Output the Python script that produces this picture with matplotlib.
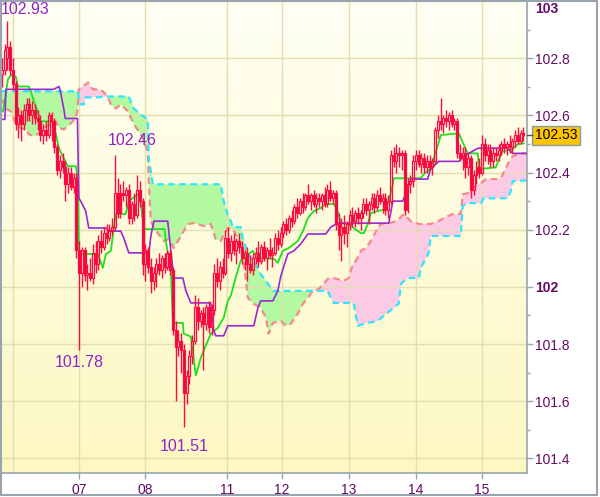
import numpy as np
import matplotlib
matplotlib.use("Agg")
import matplotlib.pyplot as plt
import matplotlib.transforms as mtransforms
from matplotlib.colors import LinearSegmentedColormap
from matplotlib.patches import Rectangle

plt.rcParams['font.family'] = ['Liberation Sans', 'DejaVu Sans']

# hourly candles
opens = [102.745, 102.76, 102.80, 102.84, 102.76, 102.71, 102.57, 102.60, 102.57, 102.62,
         102.64, 102.60, 102.62, 102.59, 102.58, 102.53, 102.55, 102.53, 102.60, 102.58,
         102.49, 102.41, 102.44, 102.42, 102.36, 102.40, 102.35, 102.38, 102.13, 102.05,
         102.13, 102.04, 102.05, 102.03, 102.12, 102.08, 102.16, 102.14, 102.19, 102.17,
         102.20, 102.21, 102.33, 102.26, 102.33, 102.32, 102.34, 102.24, 102.29, 102.25,
         102.34, 102.30, 102.08, 102.13, 102.07, 102.02, 102.05, 102.08, 102.06, 102.10,
         102.07, 102.12, 102.06, 101.85, 101.79, 101.81, 101.78, 101.63, 101.69, 101.76,
         101.81, 101.93, 101.88, 101.91, 101.87, 101.93, 101.86, 101.92, 102.05, 102.02,
         102.07, 102.05, 102.17, 102.12, 102.16, 102.13, 102.16, 102.14, 102.10, 102.12,
         102.08, 102.06, 102.10, 102.12, 102.09, 102.14, 102.10, 102.13, 102.11, 102.12,
         102.17, 102.15, 102.19, 102.22, 102.20, 102.24, 102.23, 102.28, 102.26, 102.30,
         102.28, 102.32, 102.30, 102.32, 102.29, 102.31, 102.30, 102.32, 102.29, 102.34,
         102.31, 102.33, 102.22, 102.18, 102.21, 102.19, 102.22, 102.25, 102.23, 102.26,
         102.24, 102.26, 102.29, 102.27, 102.29, 102.31, 102.28, 102.32, 102.30, 102.31,
         102.27, 102.30, 102.46, 102.44, 102.47, 102.46, 102.47, 102.27, 102.36, 102.37,
         102.44, 102.46, 102.43, 102.45, 102.42, 102.44, 102.42, 102.44, 102.55, 102.58,
         102.57, 102.59, 102.58, 102.60, 102.57, 102.58, 102.47, 102.45, 102.47, 102.42,
         102.45, 102.34, 102.39, 102.42, 102.40, 102.50, 102.46, 102.48, 102.44, 102.47,
         102.46, 102.48, 102.50, 102.49, 102.50, 102.49, 102.51, 102.53, 102.51, 102.54]
highs = [102.80, 102.85, 102.93, 102.86, 102.80, 102.72, 102.63, 102.62, 102.64, 102.66,
         102.66, 102.65, 102.64, 102.62, 102.60, 102.57, 102.58, 102.61, 102.61, 102.59,
         102.50, 102.46, 102.47, 102.44, 102.42, 102.42, 102.40, 102.40, 102.16, 102.14,
         102.14, 102.08, 102.10, 102.15, 102.16, 102.18, 102.20, 102.21, 102.22, 102.22,
         102.24, 102.46, 102.38, 102.36, 102.37, 102.35, 102.36, 102.30, 102.33, 102.39,
         102.37, 102.31, 102.15, 102.14, 102.10, 102.07, 102.10, 102.12, 102.11, 102.12,
         102.13, 102.13, 102.07, 101.88, 101.85, 101.84, 101.80, 101.71, 101.78, 101.83,
         101.97, 101.96, 101.92, 101.93, 101.94, 101.95, 101.94, 102.08, 102.10, 102.09,
         102.10, 102.20, 102.21, 102.18, 102.19, 102.17, 102.19, 102.16, 102.13, 102.14,
         102.11, 102.12, 102.14, 102.16, 102.15, 102.16, 102.14, 102.17, 102.14, 102.19,
         102.20, 102.21, 102.23, 102.24, 102.25, 102.27, 102.29, 102.31, 102.31, 102.33,
         102.33, 102.36, 102.33, 102.34, 102.33, 102.33, 102.33, 102.35, 102.36, 102.37,
         102.34, 102.34, 102.26, 102.24, 102.25, 102.23, 102.27, 102.28, 102.27, 102.28,
         102.27, 102.31, 102.31, 102.30, 102.33, 102.33, 102.34, 102.35, 102.33, 102.33,
         102.32, 102.48, 102.49, 102.50, 102.49, 102.48, 102.48, 102.38, 102.39, 102.46,
         102.48, 102.48, 102.47, 102.47, 102.46, 102.46, 102.45, 102.56, 102.60, 102.66,
         102.60, 102.62, 102.61, 102.62, 102.59, 102.59, 102.50, 102.49, 102.49, 102.47,
         102.46, 102.41, 102.44, 102.45, 102.53, 102.52, 102.50, 102.50, 102.49, 102.49,
         102.50, 102.51, 102.52, 102.51, 102.53, 102.52, 102.55, 102.56, 102.55, 102.56]
lows = [102.70, 102.74, 102.76, 102.74, 102.69, 102.55, 102.52, 102.51, 102.55, 102.58,
        102.58, 102.57, 102.57, 102.55, 102.51, 102.50, 102.51, 102.52, 102.51, 102.47,
        102.39, 102.38, 102.40, 102.30, 102.33, 102.34, 102.33, 102.10, 101.78, 102.00,
        102.02, 101.99, 102.02, 102.01, 102.05, 102.06, 102.12, 102.13, 102.15, 102.16,
        102.18, 102.20, 102.24, 102.24, 102.30, 102.28, 102.22, 102.22, 102.23, 102.24,
        102.28, 102.04, 102.02, 102.05, 101.98, 101.99, 102.00, 102.04, 102.03, 102.05,
        102.06, 102.04, 101.83, 101.60, 101.76, 101.70, 101.51, 101.59, 101.66, 101.73,
        101.80, 101.85, 101.86, 101.71, 101.85, 101.84, 101.83, 101.90, 102.00, 101.99,
        102.03, 102.04, 102.10, 102.09, 102.11, 102.08, 102.12, 102.08, 102.06, 102.02,
        102.05, 102.04, 102.08, 102.07, 102.08, 102.09, 102.06, 102.10, 102.07, 102.11,
        102.13, 102.14, 102.17, 102.18, 102.19, 102.21, 102.22, 102.24, 102.25, 102.26,
        102.27, 102.29, 102.27, 102.28, 102.26, 102.28, 102.27, 102.28, 102.28, 102.30,
        102.29, 102.20, 102.13, 102.09, 102.15, 102.14, 102.20, 102.21, 102.21, 102.22,
        102.20, 102.24, 102.25, 102.22, 102.27, 102.26, 102.27, 102.29, 102.26, 102.25,
        102.24, 102.29, 102.42, 102.40, 102.42, 102.41, 102.25, 102.26, 102.33, 102.35,
        102.41, 102.42, 102.40, 102.40, 102.40, 102.41, 102.39, 102.43, 102.52, 102.55,
        102.54, 102.56, 102.55, 102.56, 102.55, 102.45, 102.44, 102.41, 102.38, 102.39,
        102.31, 102.32, 102.36, 102.38, 102.39, 102.44, 102.43, 102.42, 102.42, 102.44,
        102.44, 102.46, 102.47, 102.46, 102.47, 102.47, 102.49, 102.50, 102.50, 102.51]
closes = [102.76, 102.83, 102.84, 102.76, 102.71, 102.57, 102.60, 102.57, 102.62, 102.64,
          102.60, 102.62, 102.59, 102.58, 102.53, 102.55, 102.53, 102.60, 102.58, 102.49,
          102.41, 102.44, 102.42, 102.36, 102.40, 102.35, 102.38, 102.13, 102.05, 102.13,
          102.04, 102.05, 102.03, 102.12, 102.08, 102.16, 102.14, 102.19, 102.17, 102.20,
          102.21, 102.33, 102.26, 102.33, 102.32, 102.34, 102.24, 102.29, 102.25, 102.34,
          102.30, 102.08, 102.13, 102.07, 102.02, 102.05, 102.08, 102.06, 102.10, 102.07,
          102.12, 102.06, 101.85, 101.79, 101.81, 101.78, 101.63, 101.69, 101.76, 101.81,
          101.93, 101.88, 101.91, 101.87, 101.93, 101.86, 101.92, 102.05, 102.02, 102.07,
          102.05, 102.17, 102.12, 102.16, 102.13, 102.16, 102.14, 102.10, 102.12, 102.08,
          102.06, 102.10, 102.12, 102.09, 102.14, 102.10, 102.13, 102.11, 102.12, 102.17,
          102.15, 102.19, 102.22, 102.20, 102.24, 102.23, 102.28, 102.26, 102.30, 102.28,
          102.32, 102.30, 102.32, 102.29, 102.31, 102.30, 102.32, 102.29, 102.34, 102.31,
          102.33, 102.22, 102.18, 102.21, 102.19, 102.22, 102.25, 102.23, 102.26, 102.24,
          102.26, 102.29, 102.27, 102.29, 102.31, 102.28, 102.32, 102.30, 102.31, 102.27,
          102.30, 102.46, 102.44, 102.47, 102.46, 102.47, 102.27, 102.36, 102.37, 102.44,
          102.46, 102.43, 102.45, 102.42, 102.44, 102.42, 102.44, 102.55, 102.58, 102.57,
          102.59, 102.58, 102.60, 102.57, 102.58, 102.47, 102.45, 102.47, 102.42, 102.45,
          102.34, 102.39, 102.42, 102.40, 102.50, 102.46, 102.48, 102.44, 102.47, 102.46,
          102.48, 102.50, 102.49, 102.50, 102.49, 102.51, 102.53, 102.51, 102.54, 102.53]

# conversion line (green) and base line (purple), vertices
tenkan_x = [0.4, 2.2, 3.3, 5.1, 5.8, 9.8, 10.5, 11.6, 13.0, 14.1,
            18.5, 19.6, 20.7, 22.1, 23.9, 26.8, 27.5, 28.0, 34.8, 36.6,
            37.7, 39.5, 41.3, 44.9, 46.0, 49.3, 50.4, 51.4, 59.0, 59.4,
            61.2, 62.0, 65.6, 65.9, 68.5, 70.3, 72.1, 73.9, 75.7, 78.3,
            80.4, 81.9, 83.0, 84.1, 86.6, 89.1, 90.9, 92.8, 98.6, 100.0,
            101.8, 104.0, 107.2, 109.1, 110.9, 113.0, 115.6, 117.4, 120.3, 121.7,
            122.8, 125.4, 127.5, 130.1, 131.2, 132.6, 133.7, 136.2, 138.4, 140.2,
            141.7, 142.0, 151.8, 152.9, 155.4, 159.1, 165.6, 168.8, 172.5, 172.8,
            179.0, 180.1, 181.5, 185.1, 186.9, 189.1]
tenkan_y = [102.614, 102.725, 102.742, 102.735, 102.701, 102.701, 102.684, 102.649, 102.614, 102.579,
            102.579, 102.534, 102.485, 102.457, 102.422, 102.422, 102.38, 102.115, 102.115, 102.066,
            102.115, 102.126, 102.255, 102.255, 102.300, 102.324, 102.290, 102.202, 102.202, 102.160,
            102.066, 101.874, 101.874, 101.836, 101.826, 101.690, 101.752, 101.794, 101.836, 101.857,
            101.892, 101.951, 101.97, 102.010, 102.094, 102.112, 102.126, 102.101, 102.098, 102.084,
            102.126, 102.136, 102.160, 102.195, 102.241, 102.265, 102.276, 102.290, 102.290, 102.265,
            102.223, 102.220, 102.206, 102.188, 102.188, 102.220, 102.258, 102.265, 102.27, 102.30,
            102.359, 102.380, 102.38, 102.394, 102.415, 102.531, 102.537, 102.467, 102.467, 102.412,
            102.418, 102.446, 102.474, 102.481, 102.499, 102.502]

kijun_x = [-0.4, 1.1, 1.5, 18.8, 20.7, 21.2, 22.5, 23.0, 27.4, 27.9,
           28.6, 30.4, 31.5, 37.7, 38.8, 43.1, 44.2, 46.0, 53.3, 54.0,
           55.1, 60.1, 62.3, 65.6, 66.7, 68.5, 75.7, 76.8, 77.5, 80.4,
           81.9, 91.3, 92.8, 93.8, 98.2, 100.0, 101.1, 103.6, 105.8, 108.3,
           110.9, 117.4, 119.2, 121.7, 140.2, 141.7, 145.3, 147.1, 148.2, 154.3,
           155.4, 158.3, 165.6, 167.4, 172.5, 183.3, 185.1, 190.6]
kijun_y = [102.586, 102.586, 102.691, 102.691, 102.701, 102.684, 102.62, 102.589, 102.589, 102.31,
           102.30, 102.265, 102.206, 102.206, 102.195, 102.195, 102.171, 102.119, 102.119, 102.178,
           102.230, 102.230, 102.031, 102.031, 101.986, 101.944, 101.944, 101.847, 101.829, 101.829,
           101.864, 101.864, 101.927, 101.951, 101.951, 101.986, 102.038, 102.115, 102.126, 102.150,
           102.185, 102.185, 102.209, 102.223, 102.223, 102.300, 102.300, 102.345, 102.377, 102.377,
           102.412, 102.439, 102.439, 102.457, 102.485, 102.485, 102.467, 102.467]

# cloud: salmon span (a) and cyan span (b) on a shared grid
cloud_x = [-0.4, 0.4, 1.4, 3.3, 5.1, 6.9, 8.7, 9.8, 11.6, 13.4,
           14.9, 17.8, 19.6, 20.7, 22.5, 23.9, 25.7, 26.8, 27.5, 27.9,
           28.6, 29.3, 29.7, 30.4, 31.2, 33.0, 34.8, 36.6, 38.4, 39.5,
           41.3, 43.1, 45.7, 46.0, 47.8, 50.4, 52.9, 53.3, 54.0, 54.7,
           56.5, 58.7, 60.5, 62.3, 64.9, 67.4, 69.6, 73.2, 75.7, 77.5,
           79.3, 80.4, 81.9, 83.0, 83.7, 86.6, 87.3, 88.4, 89.1, 91.3,
           93.8, 95.7, 96.7, 98.2, 101.1, 102.9, 104.7, 107.2, 109.1, 110.9,
           112.7, 114.9, 118.1, 119.2, 120.3, 123.9, 125.7, 127.2, 127.5, 128.3,
           129.0, 130.1, 131.9, 133.7, 136.2, 137.3, 140.2, 142.0, 143.8, 144.6,
           145.7, 147.1, 148.2, 151.1, 151.8, 154.7, 155.4, 158.3, 160.1, 163.4,
           166.3, 167.0, 168.8, 169.9, 172.5, 173.6, 174.6, 175.4, 179.0, 180.8,
           182.6, 183.3, 184.4, 185.1, 188.0, 190.6]
span_a = [102.656, 102.649, 102.624, 102.614, 102.569, 102.555, 102.551, 102.534, 102.527, 102.537,
          102.555, 102.569, 102.579, 102.555, 102.551, 102.562, 102.579, 102.589, 102.624, 102.691,
          102.698, 102.701, 102.705, 102.708, 102.715, 102.691, 102.691, 102.684, 102.666, 102.638,
          102.624, 102.638, 102.614, 102.607, 102.569, 102.534, 102.474, 102.352, 102.230, 102.216,
          102.188, 102.160, 102.167, 102.136, 102.178, 102.220, 102.223, 102.213, 102.220, 102.167,
          102.160, 102.181, 102.206, 102.202, 102.202, 102.150, 102.101, 102.031, 101.962, 101.941,
          101.927, 101.892, 101.836, 101.874, 101.881, 101.864, 101.871, 101.906, 101.941, 101.962,
          101.986, 101.993, 102.028, 102.030, 102.031, 102.021, 102.031, 102.080, 102.084, 102.091,
          102.105, 102.126, 102.136, 102.160, 102.206, 102.220, 102.223, 102.227, 102.237, 102.244,
          102.255, 102.241, 102.230, 102.220, 102.220, 102.220, 102.220, 102.230, 102.241, 102.255,
          102.255, 102.324, 102.328, 102.335, 102.359, 102.363, 102.370, 102.377, 102.377, 102.380,
          102.415, 102.429, 102.446, 102.457, 102.467, 102.467]
span_b = [102.684, 102.684, 102.684, 102.684, 102.684, 102.684, 102.684, 102.684, 102.684, 102.684,
          102.684, 102.684, 102.684, 102.684, 102.684, 102.684, 102.684, 102.684, 102.684, 102.659,
          102.638, 102.638, 102.638, 102.663, 102.663, 102.663, 102.663, 102.665, 102.666, 102.666,
          102.666, 102.666, 102.666, 102.666, 102.624, 102.603, 102.586, 102.439, 102.405, 102.359,
          102.359, 102.359, 102.359, 102.359, 102.359, 102.359, 102.359, 102.359, 102.359, 102.359,
          102.359, 102.300, 102.251, 102.230, 102.209, 102.209, 102.171, 102.140, 102.115, 102.091,
          102.045, 102.021, 102.007, 101.986, 101.986, 101.986, 101.986, 101.986, 101.986, 101.986,
          101.986, 101.986, 101.986, 101.962, 101.944, 101.944, 101.944, 101.944, 101.944, 101.899,
          101.864, 101.867, 101.873, 101.876, 101.881, 101.890, 101.913, 101.927, 101.941, 102.010,
          102.021, 102.031, 102.031, 102.031, 102.066, 102.119, 102.178, 102.178, 102.178, 102.178,
          102.178, 102.283, 102.293, 102.293, 102.293, 102.293, 102.310, 102.310, 102.310, 102.310,
          102.310, 102.310, 102.335, 102.370, 102.371, 102.373]

day_ticks = [28, 52, 81.5, 101.5, 125.7, 150, 174]
day_labels = ['07', '08', '11', '12', '13', '14', '15']
first_day = 4  # gridline of the day before, no label
price_ticks = [101.4, 101.6, 101.8, 102.0, 102.2, 102.4, 102.6, 102.8]
price_labels = ['101.4', '101.6', '101.8', '102', '102.2', '102.4', '102.6', '102.8']

RED = '#ff0a3c'
DOWN_FILL = '#d0105a'
AXIS_GRAY = '#9aa4ae'
TICK_TXT = '#640a64'
NOTE = '#8e24c8'
GRID = '#e2deb0'

fig = plt.figure(figsize=(6.0, 4.97), dpi=100)
ax = fig.add_axes([1 / 600, 24 / 497, 526 / 600, 472 / 497])

# background gradient
bg = LinearSegmentedColormap.from_list('bg', ['#fdf8c2', '#fffff4'])
ax.imshow(np.linspace(0, 1, 256).reshape(-1, 1), cmap=bg, origin='lower', aspect='auto',
          extent=[0, 1, 0, 1], transform=ax.transAxes, zorder=0)

# cloud
cx = np.array(cloud_x)
sa = np.array(span_a)
sb = np.array(span_b)
ax.fill_between(cx, sa, sb, where=sb >= sa, interpolate=True, color='#b2f9a2', lw=0, zorder=1)
ax.fill_between(cx, sa, sb, where=sa > sb, interpolate=True, color='#fdcae6', lw=0, zorder=1)
ax.plot(cx, sa, color='#f48a8a', lw=1.6, dashes=(3, 2), zorder=2)
ax.plot(cx, sb, color='#2ee6fa', lw=1.6, dashes=(3, 2), zorder=2)

# tenkan / kijun
ax.plot(tenkan_x, tenkan_y, color='#1ee01e', lw=1.3, zorder=3)
ax.plot(kijun_x, kijun_y, color='#9a28d4', lw=1.2, zorder=3)

# candles
o = np.array(opens)
h = np.array(highs)
l = np.array(lows)
c = np.array(closes)
idx = np.arange(len(c))
top = np.maximum(o, c)
bot = np.minimum(o, c)
ax.vlines(idx, top, h, color=RED, lw=1.0, zorder=4)
ax.vlines(idx, l, bot, color=RED, lw=1.0, zorder=4)
faces = ['none' if cc >= oo else DOWN_FILL for oo, cc in zip(o, c)]
ax.bar(idx, top - bot, bottom=bot, width=0.72, color=faces, edgecolor=RED, lw=0.9, zorder=5)

# extremes
ax.text(-0.3, 102.97, f'{max(highs):.2f}', ha='left', va='center', color=NOTE, fontsize=11.5, zorder=6)
ax.text(47.1, 102.513, f'{highs[41]:.2f}', ha='center', va='center', color=NOTE, fontsize=11.5, zorder=6)
ax.text(27.9, 101.734, f'{lows[28]:.2f}', ha='center', va='center', color=NOTE, fontsize=11.5, zorder=6)
ax.text(65.9, 101.44, f'{min(lows):.2f}', ha='center', va='center', color=NOTE, fontsize=11.5, zorder=6)

ax.set_xlim(-0.3, 190.3)
ax.set_ylim(101.349, 103.0)

# grid and axes
ax.set_axisbelow('line')
ax.grid(True, color=GRID, lw=1.0)
ax.axvline(first_day, color=GRID, lw=1.0, zorder=1.5)
ax.set_xticks(day_ticks)
ax.set_xticklabels(day_labels)
ax.yaxis.tick_right()
ax.set_yticks(price_ticks)
ax.set_yticklabels(price_labels)
ax.set_yticks(np.arange(101.4, 103.0, 0.1), minor=True)
for t in ax.get_yticklabels():
    if t.get_text() == '102':
        t.set_fontweight('bold')
ax.tick_params(axis='x', length=4, width=1, color=AXIS_GRAY, labelcolor=TICK_TXT, labelsize=10, pad=3)
ax.tick_params(axis='y', which='major', length=4, width=1, color=AXIS_GRAY, labelcolor=TICK_TXT,
               labelsize=10, pad=1.5)
ax.tick_params(axis='y', which='minor', length=2.5, width=1, color=AXIS_GRAY)
for side in ['left', 'right', 'bottom']:
    ax.spines[side].set_color(AXIS_GRAY)
    ax.spines[side].set_linewidth(1.2)
ax.spines['top'].set_visible(False)

trans = mtransforms.blended_transform_factory(ax.transAxes, ax.transData)
ax.annotate('103', xy=(1, 103.0), xycoords=trans, xytext=(8, -1), textcoords='offset pixels',
            ha='left', va='top', color=TICK_TXT, fontsize=10, fontweight='bold', annotation_clip=False)

# last price box
last = closes[-1]
ax.plot([1.0, 1.01], [last, last], transform=trans, color='#555555', lw=1, clip_on=False, zorder=6)
ax.annotate(f'{last:.2f}', xy=(1, last), xycoords=trans, xytext=(8, 0), textcoords='offset pixels',
            ha='left', va='center', color='black', fontsize=10, annotation_clip=False,
            bbox=dict(boxstyle='square,pad=0.2', fc='#fcc400', ec='#8a9aa8', lw=1))

fig.patches.append(Rectangle((0.001, 0.004), 0.994, 0.994, transform=fig.transFigure,
                             fill=False, edgecolor=AXIS_GRAY, lw=1.5))

fig.savefig('out.png', dpi=100)
